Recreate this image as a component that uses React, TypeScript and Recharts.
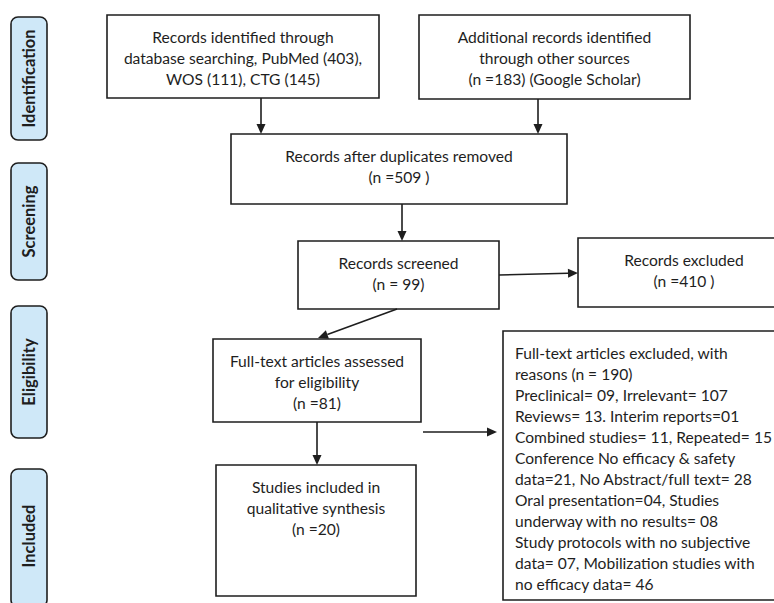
import React from 'react'
import { ComposedChart, XAxis, YAxis, ReferenceArea, ReferenceLine } from 'recharts'

// PRISMA stages shown on the left
const stages = ['Identification', 'Screening', 'Eligibility', 'Included']

// counts
const dbCounts = { pubmed: 403, wos: 111, ctg: 145 }
const otherCount = 183
const afterDuplicates = 509
const screened = 99
const excludedRecords = 410
const assessed = 81
const excludedFullText = 190
const includedStudies = 20

const reasonLines = [
  'Preclinical= 09, Irrelevant= 107',
  'Reviews= 13. Interim reports=01',
  'Combined studies= 11, Repeated= 15',
  'Conference No efficacy & safety',
  'data=21, No Abstract/full text= 28',
  'Oral presentation=04, Studies',
  'underway with no results= 08',
  'Study protocols with no subjective',
  'data= 07, Mobilization studies with',
  'no efficacy data= 46',
]

const boxTexts: string[][] = [
  [
    'Records identified through',
    `database searching, PubMed (${dbCounts.pubmed}),`,
    `WOS (${dbCounts.wos}), CTG (${dbCounts.ctg})`,
  ],
  ['Additional records identified', 'through other sources', `(n =${otherCount}) (Google Scholar)`],
  ['Records after duplicates removed', `(n =${afterDuplicates} )`],
  ['Records screened', `(n = ${screened})`],
  ['Records excluded', `(n =${excludedRecords} )`],
  ['Full-text articles assessed', 'for eligibility', `(n =${assessed})`],
  ['Studies included in', 'qualitative synthesis', `(n =${includedStudies})`],
  ['Full-text articles excluded, with', `reasons (n = ${excludedFullText})`, ...reasonLines],
]

// layout in page pixels: [x1, x2, y1, y2]
const stageBands = [
  [11, 47, 17, 140],
  [11, 47, 163, 280],
  [11, 47, 306, 438],
  [11, 47, 469, 607],
]
const boxRects = [
  [107, 379, 15, 98],
  [419, 690, 15, 99],
  [231, 567, 134, 204],
  [298, 499, 241, 309],
  [578, 790, 238, 307],
  [213, 421, 339, 422],
  [216, 416, 465, 596],
  [503, 790, 331, 600],
]
const boxAlign = ['c', 'c', 'c', 'c', 'c', 'c', 'c', 'l']
// arrows: [x1, y1, x2, y2]
const arrows = [
  [261, 98, 261, 134],
  [538, 99, 538, 134],
  [402, 204, 402, 241],
  [499, 275, 578, 273],
  [397, 309, 318, 338],
  [317, 422, 317, 465],
  [423, 432, 497, 432],
]

const W = 774
const H = 603
const ink = '#1e1e1e'
const font = 'Lato, "Open Sans", sans-serif'

const BoxLabel = (props: any) => {
  const { viewBox, lines, align } = props
  const { x, y, width } = viewBox
  const tx = align === 'l' ? x + 12 : x + width / 2
  return (
    <text
      x={tx}
      y={y + 28}
      fill={ink}
      fontFamily={font}
      fontSize={15.6}
      textAnchor={align === 'l' ? 'start' : 'middle'}
    >
      {lines.map((l: string, i: number) => (
        <tspan key={i} x={tx} dy={i === 0 ? 0 : 21}>
          {l}
        </tspan>
      ))}
    </text>
  )
}

const StageLabel = (props: any) => {
  const { viewBox, text } = props
  const { x, y, width, height } = viewBox
  const cx = x + width / 2
  const visH = Math.min(y + height, H) - y
  const cy = y + visH / 2
  return (
    <text
      x={cx}
      y={cy}
      transform={`rotate(-90 ${cx} ${cy})`}
      textAnchor="middle"
      dominantBaseline="central"
      fill={ink}
      fontFamily={font}
      fontWeight={700}
      fontSize={16.5}
    >
      {text}
    </text>
  )
}

const RoundBox = (props: any) => {
  const { x, y, width, height } = props
  return (
    <rect x={x} y={y} width={width} height={height} rx={7} ry={7} fill="#cfe8f8" stroke={ink} strokeWidth={1.6} />
  )
}

const Arrow = (props: any) => {
  const { x1, y1, x2, y2 } = props
  const dx = x2 - x1
  const dy = y2 - y1
  const len = Math.hypot(dx, dy)
  const ux = dx / len
  const uy = dy / len
  const hl = 10
  const hw = 4.5
  const bx = x2 - ux * hl
  const by = y2 - uy * hl
  return (
    <g>
      <line x1={x1} y1={y1} x2={bx} y2={by} stroke={ink} strokeWidth={1.6} />
      <polygon
        points={`${x2},${y2} ${bx - uy * hw},${by + ux * hw} ${bx + uy * hw},${by - ux * hw}`}
        fill={ink}
      />
    </g>
  )
}

export default function App() {
  return (
    <div style={{ position: 'absolute', left: 0, top: 0, background: '#fff' }}>
      <ComposedChart width={W} height={H} margin={{ top: 0, right: 0, bottom: 0, left: 0 }} data={[]}>
        <XAxis type="number" dataKey="x" domain={[0, W]} allowDataOverflow hide />
        <YAxis type="number" dataKey="y" domain={[0, H]} allowDataOverflow reversed hide width={0} />
        {stageBands.map((b, i) => (
          <ReferenceArea
            key={'s' + i}
            x1={b[0]}
            x2={b[1]}
            y1={b[2]}
            y2={b[3]}
            ifOverflow="visible"
            shape={(p: any) => <RoundBox {...p} />}
            label={(p: any) => <StageLabel {...p} text={stages[i]} />}
          />
        ))}
        {boxRects.map((b, i) => (
          <ReferenceArea
            key={'b' + i}
            x1={b[0]}
            x2={b[1]}
            y1={b[2]}
            y2={b[3]}
            ifOverflow="visible"
            fill="#fff"
            fillOpacity={1}
            stroke={ink}
            strokeWidth={1.6}
            label={(p: any) => <BoxLabel {...p} lines={boxTexts[i]} align={boxAlign[i]} />}
          />
        ))}
        {arrows.map((a, i) => (
          <ReferenceLine
            key={'a' + i}
            segment={[
              { x: a[0], y: a[1] },
              { x: a[2], y: a[3] },
            ]}
            ifOverflow="visible"
            shape={(p: any) => <Arrow {...p} />}
          />
        ))}
      </ComposedChart>
    </div>
  )
}
